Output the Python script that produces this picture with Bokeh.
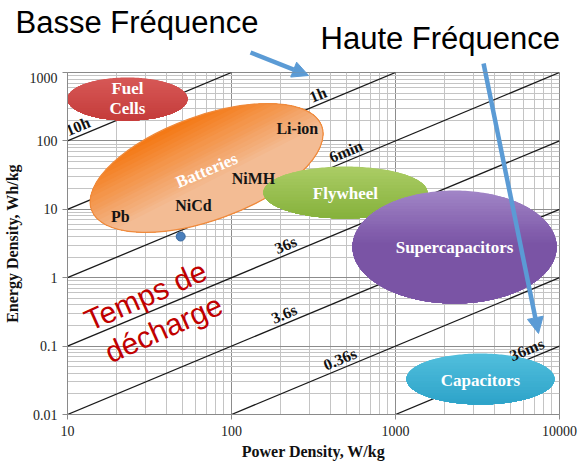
import math
from bokeh.plotting import figure
from bokeh.layouts import column, row
from bokeh.models import (ColumnDataSource, Arrow, NormalHead,
                          CustomJSTickFormatter, FixedTicker)
from bokeh.core.properties import value
from bokeh.embed import file_html
from bokeh.resources import INLINE

# ---------------- data ----------------
power_range = (10, 10000)          # W/kg
energy_range = (0.01, 1000)        # Wh/kg
power_ticks = [10, 100, 1000, 10000]
energy_ticks = [0.01, 0.1, 1, 10, 100, 1000]

discharge_hours = [10, 1, 0.1, 0.01, 0.001, 0.0001, 0.00001]
discharge_labels = ["10h", "1h", "6min", "36s", "3.6s", "0.36s", "36ms"]
discharge_label_power = [10.3, 316, 417, 194, 185, 385, 5260]

tech_names = ["Fuel Cells", "Batteries", "Flywheel", "Supercapacitors", "Capacitors"]
tech_power = [23.2, 70.5, 495, 2291, 3296]
tech_energy = [410, 40.2, 17.6, 2.81, 0.033]

chem_names = ["Li-ion", "NiMH", "NiCd", "Pb"]
chem_power = [252, 136, 58.6, 21]
chem_energy = [152, 28.2, 11.4, 7.85]

point_power = [49]
point_energy = [4]

header_texts = ["Basse Fréquence", "Haute Fréquence"]
header_power = [4.82, 349]
header_energy = [5300, 3100]

arrow_start_power = [130.6, 3443]
arrow_start_energy = [1959, 1354]
arrow_end_power = [295, 7447]
arrow_end_energy = [904, 0.153]

note_lines = ["Temps de", "décharge"]
note_power = [29.9, 38.5]
note_energy = [0.55, 0.181]

# ---------------- styles / layout ----------------
W, H = 584, 464
BL, BR, BT, BB = 67, 25, 72, 50
tech_w = [120, 245, 164, 204, 148]
tech_h = [43, 104, 52, 113, 51]
tech_angle = [0, 20, 0, 0, 0]
# (start colour, end colour, gradient direction on screen (x right, y down), extent)
tech_fill = [
    ((214, 88, 86), (196, 58, 57), (0.0, 1.0), 1.0),
    ((244, 121, 22), (243, 188, 148), (0.45, 0.89), 0.62),
    ((170, 204, 100), (132, 176, 58), (0.0, 1.0), 1.0),
    ((160, 132, 198), (122, 84, 165), (0.0, 1.0), 0.45),
    ((80, 190, 220), (44, 162, 200), (0.0, 1.0), 1.0),
]
SERIF = value("Liberation Serif")
SANS = value("Liberation Sans")
blue = "#5b9bd5"

frame_w = W - BL - BR
frame_h = H - BT - BB
dec_x = frame_w / math.log10(power_range[1] / power_range[0])
dec_y = frame_h / math.log10(energy_range[1] / energy_range[0])

# ---------------- main figure ----------------
p = figure(width=W, height=H - BT, x_axis_type="log", y_axis_type="log",
           x_range=power_range, y_range=energy_range, title=None,
           output_backend="svg", toolbar_location=None,
           min_border_left=BL, min_border_right=BR,
           min_border_top=0, min_border_bottom=BB)
p.outline_line_color = "#8a8a8a"

minor_x = [m * 10 ** k for k in range(1, 4) for m in range(2, 10)]
minor_y = [m * 10 ** k for k in range(-2, 3) for m in range(2, 10)]
xt = FixedTicker(ticks=power_ticks, minor_ticks=minor_x)
yt = FixedTicker(ticks=energy_ticks, minor_ticks=minor_y)
p.xaxis.ticker = xt
p.yaxis.ticker = yt
p.xgrid.ticker = xt
p.ygrid.ticker = yt
fmt = CustomJSTickFormatter(code="return String(parseFloat(Number(tick).toPrecision(6)));")
p.xaxis.formatter = fmt
p.yaxis.formatter = fmt

for g in (p.xgrid, p.ygrid):
    g.grid_line_color = "#8c8c8c"
    g.grid_line_width = 1
    g.minor_grid_line_color = "#c4c4c4"
    g.minor_grid_line_width = 1

for ax in (p.xaxis, p.yaxis):
    ax.axis_line_color = "#8a8a8a"
    ax.major_tick_line_color = "#8a8a8a"
    ax.major_tick_out = 5
    ax.major_tick_in = 0
    ax.minor_tick_line_color = None
    ax.major_label_text_font = "Liberation Serif"
    ax.major_label_text_font_size = "14px"
    ax.major_label_text_color = "#222222"
    ax.major_label_standoff = 5
    ax.axis_label_text_font = "Liberation Serif"
    ax.axis_label_text_font_style = "bold"
    ax.axis_label_text_font_size = "16px"
    ax.axis_label_text_color = "#111111"
p.xaxis.axis_label = "Power Density, W/kg"
p.yaxis.axis_label = "Energy Density, Wh/kg"
p.xaxis.major_label_standoff = 6
p.xaxis.axis_label_standoff = 4
p.yaxis.axis_label_standoff = 6

# constant discharge-time lines
xs, ys = [], []
for t in discharge_hours:
    p_lo = max(power_range[0], energy_range[0] / t)
    p_hi = min(power_range[1], energy_range[1] / t)
    xs.append([p_lo, p_hi])
    ys.append([p_lo * t, p_hi * t])
p.multi_line(xs, ys, line_color="#1a1a1a", line_width=1.3)


def lerp(c0, c1, t):
    return "#%02x%02x%02x" % tuple(int(round(a + (b - a) * t)) for a, b in zip(c0, c1))


def gradient_ellipse(fig, P0, E0, w, h, ang_deg, c0, c1, direction, extent, n=18, m=240):
    """Ellipse (screen-sized, centred on a data point) filled with a linear gradient."""
    a, b = w / 2, h / 2
    th = math.radians(ang_deg)
    pts = []
    for i in range(m):
        t = 2 * math.pi * i / m
        X = a * math.cos(t) * math.cos(th) - b * math.sin(t) * math.sin(th)
        Y = a * math.cos(t) * math.sin(th) + b * math.sin(t) * math.cos(th)
        pts.append((X, Y))
    dx, dy = direction
    g = [X * dx - Y * dy for X, Y in pts]
    gmin, gmax = min(g), max(g)

    def to_data(sel):
        return ([P0 * 10 ** (pts[i][0] / dec_x) for i in sel],
                [E0 * 10 ** (pts[i][1] / dec_y) for i in sel])

    for k in range(n):
        f = k / (n - 1)
        d = gmin + (gmax - gmin) * extent * f
        if k == 0:
            sel = list(range(m))
        else:
            start = next(i for i in range(m) if g[i] >= d and g[i - 1] < d)
            sel = []
            i = start
            while g[i % m] >= d and len(sel) < m:
                sel.append(i % m)
                i += 1
        px_, py_ = to_data(sel)
        fig.patch(px_, py_, fill_color=lerp(c0, c1, f), line_color=None)


for i, name in enumerate(tech_names):
    c0, c1, direc, ext = tech_fill[i]
    gradient_ellipse(p, tech_power[i], tech_energy[i], tech_w[i], tech_h[i],
                     tech_angle[i], c0, c1, direc, ext)
    if name == "Batteries":
        p.ellipse(x=[tech_power[i]], y=[tech_energy[i]], width=[tech_w[i]],
                  height=[tech_h[i]], angle=[tech_angle[i]], angle_units="deg",
                  width_units="screen", height_units="screen",
                  fill_color=None, line_color="#ef8a3c", line_width=1.2)

ang = math.degrees(math.atan2(dec_y, dec_x))
lab_src = ColumnDataSource(dict(
    x=discharge_label_power,
    y=[pw * t for pw, t in zip(discharge_label_power, discharge_hours)],
    text=discharge_labels))
p.text(x="x", y="y", text="text", source=lab_src, angle=ang, angle_units="deg",
       text_align="left", text_baseline="bottom", y_offset=-1,
       text_font=SERIF, text_font_style="bold", text_font_size="16px",
       text_color="#111111")

tech_lab = ColumnDataSource(dict(
    x=[tech_power[0], tech_power[0], tech_power[1], tech_power[2], tech_power[3], tech_power[4]],
    y=[tech_energy[0] * 1.42, tech_energy[0] * 0.73, tech_energy[1] * 0.92,
       tech_energy[2] * 0.97, tech_energy[3], tech_energy[4] * 0.95],
    text=["Fuel", "Cells", "Batteries", "Flywheel", "Supercapacitors", "Capacitors"],
    angle=[0, 0, 23, 0, 0, 0]))
p.text(x="x", y="y", text="text", angle="angle", angle_units="deg", source=tech_lab,
       text_align="center", text_baseline="middle",
       text_font=SERIF, text_font_style="bold", text_font_size="17px",
       text_color="#ffffff")

p.text(x=chem_power, y=chem_energy, text=chem_names,
       text_align="center", text_baseline="middle",
       text_font=SERIF, text_font_style="bold", text_font_size="16px",
       text_color="#141414")

p.scatter(x=point_power, y=point_energy, size=9, fill_color="#4a7ebb",
          line_color="#3a6aa0")

p.text(x=note_power, y=note_energy, text=note_lines, angle=24, angle_units="deg",
       text_align="center", text_baseline="middle", text_font=SANS,
       text_font_size="30px", text_color="#c00000")

# ---------------- header strip (same scales, continued upwards) ----------------
top_x = (10 ** (math.log10(power_range[0]) - BL / dec_x),
         10 ** (math.log10(power_range[1]) + BR / dec_x))
top_y = (energy_range[1], 10 ** (math.log10(energy_range[1]) + BT / dec_y))
top = figure(width=W, height=BT, x_axis_type="log", y_axis_type="log",
             x_range=top_x, y_range=top_y, title=None,
             x_axis_location=None, y_axis_location=None,
             output_backend="svg", toolbar_location=None,
             min_border=0)
top.grid.visible = False
top.outline_line_color = None

top.text(x=header_power, y=header_energy, text=header_texts,
         text_align="left", text_baseline="alphabetic", text_font=SANS,
         text_font_size="31px", text_color="#000000")

for fig in (top, p):
    for i in range(len(arrow_start_power)):
        fig.add_layout(Arrow(x_start=arrow_start_power[i], y_start=arrow_start_energy[i],
                             x_end=arrow_end_power[i], y_end=arrow_end_energy[i],
                             line_color=blue, line_width=4.5,
                             end=NormalHead(size=16, fill_color=blue, line_color=blue)))

layout = column(row(top, spacing=0), p, spacing=0)
open("out.html", "w").write(file_html(layout, INLINE))
